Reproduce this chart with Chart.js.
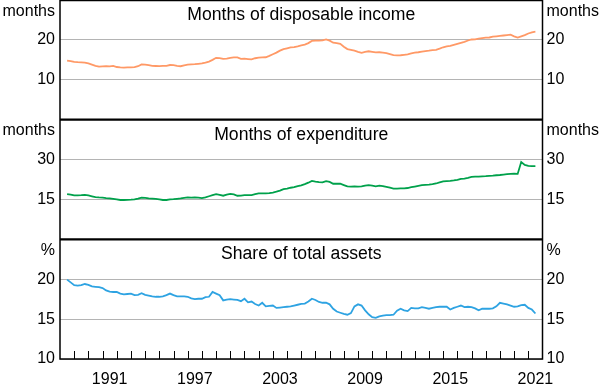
<!DOCTYPE html>
<html>
<head>
<meta charset="utf-8">
<script src="https://cdn.jsdelivr.net/npm/chart.js@4.4.1/dist/chart.umd.min.js"></script>
<style>
  html, body { margin: 0; padding: 0; background: #fff; }
</style>
</head>
<body>
<canvas id="chart" width="601" height="384"></canvas>
<script>
// quarterly observations, first one at mid 1988
const firstQuarter = 1988.5;

const incomeMonths = [
  14.8, 14.7,
  14.5, 14.4, 14.35, 14.3,
  14.1, 13.8, 13.5, 13.3,
  13.35, 13.4, 13.35, 13.5,
  13.2, 13.1, 13.05, 13.1,
  13.1, 13.15, 13.4, 13.85,
  13.8, 13.65, 13.5, 13.45,
  13.4, 13.5, 13.5, 13.7,
  13.65, 13.5, 13.4, 13.6,
  13.8, 13.85, 13.9, 14.0,
  14.1, 14.3, 14.55, 15.0,
  15.5, 15.45, 15.25, 15.3,
  15.5, 15.6, 15.6, 15.25,
  15.3, 15.2, 15.1, 15.4,
  15.55, 15.6, 15.65, 16.0,
  16.4, 16.8, 17.3, 17.7,
  17.9, 18.1, 18.2, 18.4,
  18.65, 18.8, 19.2, 19.75,
  19.8, 19.8, 19.9, 20.1,
  19.8, 19.3, 19.2, 19.0,
  18.3, 17.7, 17.5, 17.3,
  17.0, 16.75, 17.0, 17.15,
  17.0, 16.85, 16.9, 16.8,
  16.7, 16.45, 16.2, 16.1,
  16.15, 16.25, 16.35, 16.6,
  16.8, 16.9, 17.05, 17.2,
  17.3, 17.45, 17.5, 17.8,
  18.15, 18.35, 18.5, 18.75,
  19.0, 19.25, 19.5, 19.85,
  20.1, 20.15, 20.3, 20.45,
  20.55, 20.6, 20.8, 20.9,
  21.0, 21.1, 21.2, 21.3,
  20.9, 20.6, 20.9, 21.2,
  21.6, 21.9, 22.05
];

const expenditureMonths = [
  17.0, 16.8,
  16.5, 16.5, 16.6, 16.75,
  16.5, 16.2, 15.9, 15.75,
  15.65, 15.5, 15.4, 15.2,
  15.0, 14.8, 14.8, 14.85,
  14.9, 15.0, 15.3, 15.7,
  15.6, 15.4, 15.3, 15.2,
  15.0, 14.8, 14.8, 15.0,
  15.1, 15.25, 15.4, 15.6,
  15.75, 15.7, 15.75, 15.7,
  15.5, 15.8, 16.2, 16.6,
  17.0, 16.7, 16.4, 16.8,
  17.1, 16.9, 16.4, 16.45,
  16.6, 16.6, 16.65, 17.0,
  17.3, 17.3, 17.3, 17.35,
  17.6, 17.9, 18.3, 18.85,
  19.1, 19.4, 19.6, 20.0,
  20.3, 20.75, 21.3, 22.0,
  21.7, 21.5, 21.4, 21.9,
  21.6, 20.9, 20.9, 20.9,
  20.4, 19.9, 19.85, 19.9,
  19.85, 19.9, 20.2, 20.4,
  20.2, 19.9, 20.2, 20.0,
  19.7, 19.4, 19.1, 19.1,
  19.15, 19.2, 19.3, 19.6,
  19.85, 20.1, 20.35, 20.5,
  20.6, 20.75, 21.0, 21.4,
  21.8, 21.9, 22.0, 22.15,
  22.4, 22.7, 22.8, 23.1,
  23.45, 23.55, 23.6, 23.7,
  23.75, 23.85, 23.95, 24.1,
  24.2, 24.35, 24.5, 24.65,
  24.7, 24.6, 29.1, 28.0,
  27.6, 27.5, 27.55
];

const assetShare = [
  19.95, 19.6,
  19.25, 19.2, 19.25, 19.4,
  19.3, 19.1, 19.05, 19.0,
  18.9, 18.6, 18.45, 18.4,
  18.4, 18.2, 18.1, 18.15,
  18.2, 18.0, 18.05, 18.25,
  18.05, 17.95, 17.85, 17.8,
  17.8, 17.85, 18.0, 18.2,
  18.0, 17.85, 17.85, 17.85,
  17.8, 17.6, 17.5, 17.55,
  17.55, 17.75, 17.8, 18.4,
  18.2, 18.0, 17.35, 17.45,
  17.5, 17.45, 17.4, 17.25,
  17.55, 17.1, 17.2, 16.9,
  16.7, 17.05, 16.6, 16.65,
  16.7, 16.4, 16.45, 16.5,
  16.55, 16.6, 16.7, 16.8,
  16.9, 16.95, 17.2, 17.55,
  17.4, 17.15, 17.05, 17.05,
  16.85, 16.3, 15.95, 15.8,
  15.65, 15.55, 15.75, 16.6,
  16.85, 16.7, 16.1, 15.6,
  15.25, 15.15, 15.35, 15.45,
  15.5, 15.5, 15.55, 16.05,
  16.3, 16.1, 16.0, 16.4,
  16.35, 16.35, 16.5, 16.4,
  16.3, 16.4, 16.5, 16.55,
  16.55, 16.55, 16.2, 16.4,
  16.55, 16.7, 16.5, 16.55,
  16.5, 16.35, 16.1, 16.3,
  16.3, 16.3, 16.35, 16.6,
  17.05, 16.95, 16.85, 16.7,
  16.55, 16.6, 16.75, 16.8,
  16.4, 16.2, 15.7
];

const xTickYears = [1991, 1997, 2003, 2009, 2015, 2021];
const incomeTicks = [10, 20];
const expenditureTicks = [15, 30];
const assetTicks = [10, 15, 20];

const panelTitles = ['Months of disposable income', 'Months of expenditure', 'Share of total assets'];
const panelUnits = ['months', 'months', '%'];

const FONT_FAMILY = '"Liberation Sans", Arial, sans-serif';

const toPoints = vals => vals.map((v, i) => ({ x: firstQuarter + i / 4, y: v }));

// one y axis of a panel; left and right copies get stacked on their side
// (left side boxes get sorted the other way round, hence the flipped weight)
function panelAxis(side, order, min, max, ticks) {
  return {
    type: 'linear',
    position: side,
    stack: side,
    stackWeight: 1,
    weight: side === 'left' ? 4 - order : order,
    min: min,
    max: max,
    afterBuildTicks: s => { s.ticks = ticks.map(v => ({ value: v })); },
    afterFit: s => {
      s.width = side === 'left' ? 60 : 58.5;
      s.paddingTop = 0;
      s.paddingBottom = 0;
    },
    grid: { display: side === 'left', color: '#b4b4b4', lineWidth: 1, drawTicks: false },
    border: { display: false },
    ticks: { color: '#000', font: { family: FONT_FAMILY, size: 16 }, padding: side === 'left' ? 5 : 4 }
  };
}

const panelDecor = {
  id: 'panelDecor',
  afterDraw(chart) {
    const { ctx, chartArea: a, scales } = chart;
    const left = ['yIncome', 'yExpend', 'yAssets'].map(id => scales[id]);
    ctx.save();

    // year tick marks inside the bottom panel
    ctx.strokeStyle = '#000';
    ctx.lineWidth = 1;
    const xs = scales.x;
    for (let yr = xs.min + 1; yr < xs.max; yr++) {
      const px = Math.round(xs.getPixelForValue(yr)) + 0.5;
      ctx.beginPath();
      ctx.moveTo(px, a.bottom);
      ctx.lineTo(px, a.bottom - 8);
      ctx.stroke();
    }

    // titles and units
    ctx.fillStyle = '#000';
    ctx.textBaseline = 'alphabetic';
    left.forEach((s, i) => {
      ctx.font = '17.6px ' + FONT_FAMILY;
      ctx.textAlign = 'center';
      ctx.fillText(panelTitles[i], (a.left + a.right) / 2, s.top + 20);
      ctx.font = '16px ' + FONT_FAMILY;
      ctx.textAlign = 'right';
      ctx.fillText(panelUnits[i], a.left - 5, s.top + 15.5);
      ctx.textAlign = 'left';
      ctx.fillText(panelUnits[i], a.right + 4, s.top + 15.5);
    });

    // frame
    ctx.lineWidth = 1.5;
    ctx.strokeRect(a.left, a.top + 0.5, a.right - a.left, a.bottom - a.top - 0.5);
    ctx.lineWidth = 2.2;
    [left[1].top, left[2].top].forEach(y => {
      ctx.beginPath();
      ctx.moveTo(a.left, y);
      ctx.lineTo(a.right, y);
      ctx.stroke();
    });
    ctx.restore();
  }
};

new Chart(document.getElementById('chart'), {
  type: 'line',
  data: {
    datasets: [
      { data: toPoints(incomeMonths), yAxisID: 'yIncome', borderColor: '#ff9966', borderWidth: 1.8, pointRadius: 0 },
      { data: toPoints(expenditureMonths), yAxisID: 'yExpend', borderColor: '#00a14b', borderWidth: 1.8, pointRadius: 0 },
      { data: toPoints(assetShare), yAxisID: 'yAssets', borderColor: '#2ea3e2', borderWidth: 1.8, pointRadius: 0 }
    ]
  },
  options: {
    responsive: false,
    animation: false,
    devicePixelRatio: 1,
    layout: { padding: 0 },
    plugins: { legend: { display: false }, tooltip: { enabled: false } },
    scales: {
      x: {
        type: 'linear',
        position: 'bottom',
        min: 1988,
        max: 2022,
        afterBuildTicks: s => { s.ticks = xTickYears.map(y => ({ value: y + 0.5 })); },
        afterFit: s => { s.height = 25; s.paddingLeft = 0; s.paddingRight = 0; },
        grid: { display: false },
        border: { display: false },
        ticks: {
          color: '#000',
          font: { family: FONT_FAMILY, size: 16 },
          padding: 3,
          maxRotation: 0,
          autoSkip: false,
          callback: v => String(Math.floor(v))
        }
      },
      yIncome: panelAxis('left', 1, 0, 30, incomeTicks),
      yExpend: panelAxis('left', 2, 0, 45, expenditureTicks),
      yAssets: panelAxis('left', 3, 10, 25, assetTicks),
      yIncomeR: panelAxis('right', 1, 0, 30, incomeTicks),
      yExpendR: panelAxis('right', 2, 0, 45, expenditureTicks),
      yAssetsR: panelAxis('right', 3, 10, 25, assetTicks)
    }
  },
  plugins: [panelDecor]
});
</script>
</body>
</html>
